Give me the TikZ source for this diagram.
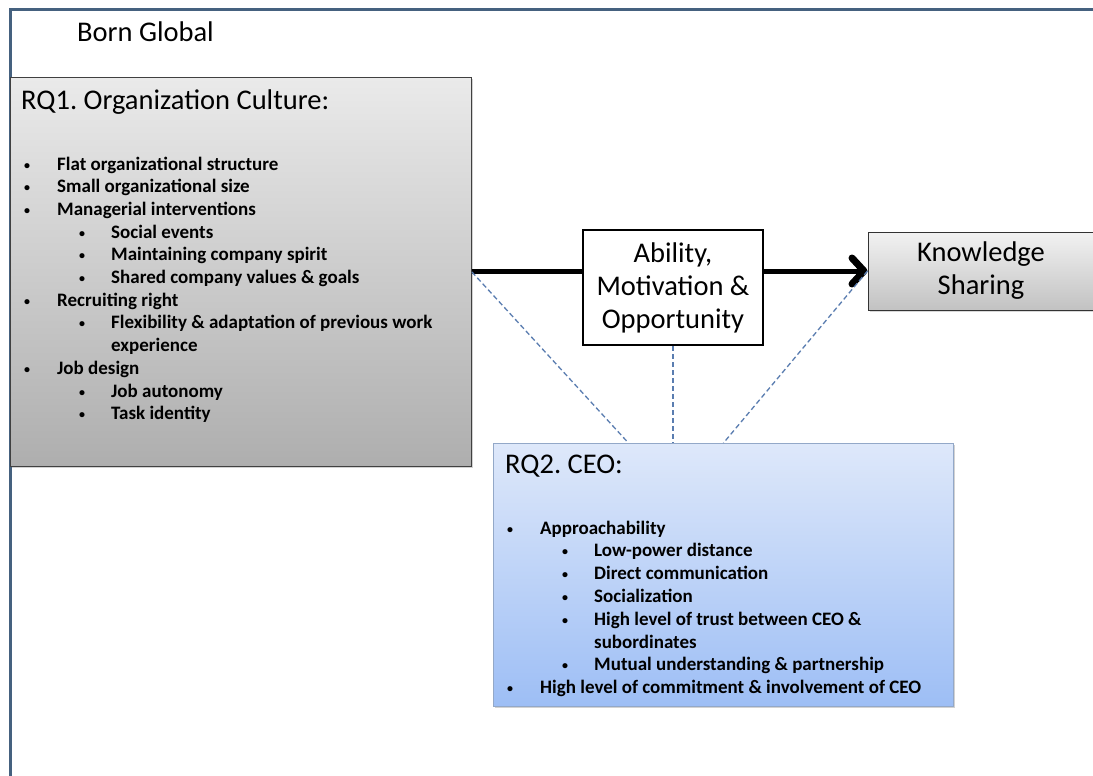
\documentclass[tikz,border=0pt]{standalone}
\usepackage{fontspec}
\setmainfont{Carlito}
\frenchspacing
\usetikzlibrary{arrows.meta,shadows,positioning}

\definecolor{framecol}{HTML}{45617F}
\definecolor{dashcol}{HTML}{5A7DB0}
\definecolor{rqonetop}{HTML}{EAEAEA}
\definecolor{rqonebot}{HTML}{AEAEAE}
\definecolor{kstop}{HTML}{F2F2F2}
\definecolor{ksbot}{HTML}{C2C2C2}
\definecolor{rqtwotop}{HTML}{DEE8FA}
\definecolor{rqtwobot}{HTML}{9DBEF5}
\definecolor{rqtwoline}{HTML}{93A8C8}

% bullet levels
\newcommand{\dotbul}{\hspace*{3pt}\raisebox{1pt}{\fontsize{12}{12}\selectfont\textbullet}}
\newcommand{\itemA}[1]{\makebox[36pt][l]{\dotbul}#1}
\newcommand{\itemB}[1]{\hspace*{55pt}\makebox[35pt][l]{\dotbul}#1}
\newcommand{\itemC}[1]{\hspace*{90pt}#1}

\tikzset{
  bigtxt/.style={font=\fontsize{28.5}{33}\selectfont},
  listtxt/.style={font=\fontsize{19}{23}\selectfont\bfseries, inner sep=0pt, anchor=base west},
  panel/.style={rectangle, inner sep=0pt, anchor=north west,
    drop shadow={shadow xshift=2pt, shadow yshift=-2pt, opacity=.35}},
  dashlink/.style={dashcol, line width=1.3pt, dash pattern=on 5pt off 3pt}
}

\begin{document}
\begin{tikzpicture}[x=1pt,y=-1pt]
\useasboundingbox[fill=white] (0,0) rectangle (1093,776);
%
% outer frame
\draw[framecol, line width=3pt] (10,776) -- (10,10) -- (1093,10);
\node[bigtxt, anchor=base west, inner sep=0pt] (bg) at (77,42) {Born Global};
%
% RQ1 panel
\node[panel, draw=black!75, line width=.9pt, top color=rqonetop, bottom color=rqonebot,
  minimum width=461pt, minimum height=389pt] (rq1) at (10,77) {};
\node[bigtxt, anchor=base west, inner sep=0pt] (rq1t) at (21,110) {RQ1. Organization Culture:};
\foreach \lvl/\txt [count=\i] in {A/Flat organizational structure,
  A/Small organizational size, A/Managerial interventions, B/Social events,
  B/Maintaining company spirit, B/Shared company values \& goals,
  A/Recruiting right, B/Flexibility \& adaptation of previous work,
  C/experience, A/Job design, B/Job autonomy, B/Task identity}
\node[listtxt] (oc\i) at (21,{170+22.7*(\i-1)}) {\csname item\lvl\endcsname{\txt}};
%
% RQ2 panel
\node[panel, draw=rqtwoline, line width=.9pt, top color=rqtwotop, bottom color=rqtwobot,
  minimum width=460pt, minimum height=263pt] (rq2) at (493,443) {};
\node[bigtxt, anchor=base west, inner sep=0pt] (rq2t) at (505,473) {RQ2. CEO:};
\foreach \lvl/\txt [count=\i] in {A/Approachability, B/Low-power distance,
  B/Direct communication, B/Socialization, B/High level of trust between CEO \&,
  C/subordinates, B/Mutual understanding \& partnership,
  A/High level of commitment \& involvement of CEO}
\node[listtxt] (ceo\i) at (504,{534+22.8*(\i-1)}) {\csname item\lvl\endcsname{\txt}};
%
% mediator and outcome
\node[bigtxt, draw=black, line width=2.5pt, fill=white, align=center,
  minimum width=180pt, minimum height=115pt, inner sep=0pt] (amo) at (673,287.5)
  {Ability,\\Motivation \&\\Opportunity};
\node[bigtxt, draw=black!80, line width=1pt, top color=kstop, bottom color=ksbot,
  align=center, minimum width=226pt, minimum height=78pt, inner sep=0pt,
  drop shadow={shadow xshift=2pt, shadow yshift=-2pt, opacity=.3}] (ks) at (981,271)
  {Knowledge\\Sharing};
%
% connectors
\draw[line width=5pt] (rq1.east) -- (rq1.east -| amo.west);
\draw[line width=5pt, -{Straight Barb[length=12pt,width=26pt,line width=7pt,round]}]
  (amo.east |- ks.west) -- (ks.west);
\draw[dashlink] (rq1.east) -- ([xshift=-95pt]rq2.north);
\draw[dashlink] (amo.south) -- (amo.south |- rq2.north);
\draw[dashlink] (ks.west) -- (rq2.north);
\end{tikzpicture}
\end{document}
